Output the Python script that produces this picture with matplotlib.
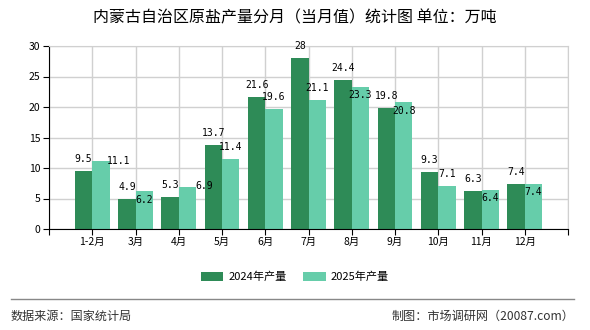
import numpy as np
import matplotlib.pyplot as plt

plt.rcParams['font.family'] = ['Noto Sans CJK SC', 'DejaVu Sans']

# data
months = ['1-2月', '3月', '4月', '5月', '6月', '7月', '8月', '9月', '10月', '11月', '12月']
prod_2024 = [9.5, 4.9, 5.3, 13.7, 21.6, 28, 24.4, 19.8, 9.3, 6.3, 7.4]
prod_2025 = [11.1, 6.2, 6.9, 11.4, 19.6, 21.1, 23.3, 20.8, 7.1, 6.4, 7.4]

# label offsets (pixels) for the 2025 values, as placed in the original
off_2025 = [(18, 0), (0, -9), (17, 1), (0, 12), (0, 12), (0, 12),
            (0, -8), (0, -9), (0, 12), (0, -8), (0, -8)]

c24 = '#2e8b57'
c25 = '#66cdaa'

fig = plt.figure(figsize=(5.9, 3.3), dpi=100)
ax = fig.add_axes([49 / 590, 1 - 229 / 330, (568 - 49) / 590, (229 - 46) / 330])

x = np.arange(1, len(months) + 1)
w = 0.4
ax.bar(x - w / 2, prod_2024, w, color=c24, label='2024年产量', zorder=2)
ax.bar(x + w / 2, prod_2025, w, color=c25, label='2025年产量', zorder=2)

lbl = dict(ha='center', va='center', fontsize=7, family='DejaVu Sans Mono',
           textcoords='offset pixels', zorder=3)
for xi, v in zip(x, prod_2024):
    ax.annotate(f'{v:g}', (xi - w / 2, v), xytext=(0, 12), **lbl)
for xi, v, o in zip(x, prod_2025, off_2025):
    ax.annotate(f'{v:g}', (xi + w / 2, v), xytext=o, **lbl)

ax.set_xlim(0, 12)
ax.set_ylim(0, 30)
ax.set_yticks(range(0, 31, 5))
ax.set_xticks(np.arange(0, 13))
ax.set_xticklabels([''] + months + [''])
ax.tick_params(labelsize=7.5, length=4, color='black', pad=2)
ax.grid(True, color='#d0d0d0', linewidth=1, zorder=0)
for s in ['top', 'right']:
    ax.spines[s].set_color('#d0d0d0')
for s in ['left', 'bottom']:
    ax.spines[s].set_color('black')

fig.text(0.5, 1 - 18 / 330, '内蒙古自治区原盐产量分月（当月值）统计图 单位：万吨',
         ha='center', va='center', fontsize=11.5)

ax.legend(loc='center', bbox_to_anchor=(0.5, 1 - 277 / 330), bbox_transform=fig.transFigure,
          ncol=2, frameon=False, fontsize=8, handlelength=2.0, handleheight=0.8,
          columnspacing=1.5, handletextpad=0.45)

fig.add_artist(plt.Line2D([11 / 590, 574 / 590], [1 - 299 / 330] * 2, color='#888888', linewidth=1))
fig.text(11 / 590, 1 - 316 / 330, '数据来源：国家统计局', ha='left', va='center', fontsize=8.7, color='#333333')
fig.text(574 / 590, 1 - 316 / 330, '制图：市场调研网（20087.com）', ha='right', va='center', fontsize=8.7, color='#333333')

fig.savefig('out.png', dpi=100)
